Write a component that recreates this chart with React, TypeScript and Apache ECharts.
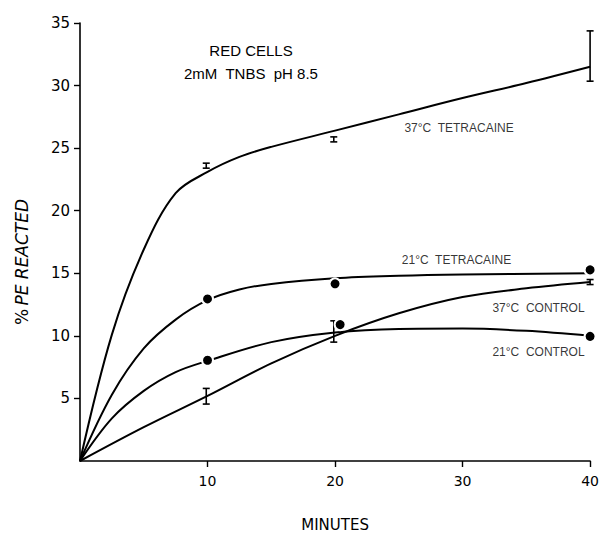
import React, { useEffect, useRef } from "react";
import * as echarts from "echarts";

// ---- data (minutes, % PE reacted) ----
const xTickValues = [10, 20, 30, 40];
const yTickValues = [5, 10, 15, 20, 25, 30, 35];

// fitted curves drawn by hand in the original figure
const curve37Tetracaine = [
  [0, 0], [2.5, 10.1], [5, 16.9], [7.5, 21.4], [10, 23.1], [12.5, 24.3], [15, 25.1],
  [20, 26.4], [25, 27.7], [30, 29.0], [35, 30.2], [40, 31.5],
];
const curve21Tetracaine = [
  [0, 0], [2.5, 5.3], [5, 9.0], [7.5, 11.3], [10, 12.85], [12.5, 13.7], [15, 14.15],
  [20, 14.6], [25, 14.8], [30, 14.9], [40, 15.0],
];
const curve37Control = [
  [0, 0], [5, 2.7], [10, 5.2], [15, 7.8], [20, 10.0], [25, 11.8], [30, 13.1],
  [35, 13.8], [40, 14.3],
];
const curve21Control = [
  [0, 0], [2.5, 3.4], [5, 5.6], [7.5, 7.1], [10, 8.0], [15, 9.5], [20, 10.27],
  [25, 10.55], [30, 10.58], [35, 10.4], [40, 10.0],
];

// measured points
const dots21Tetracaine = [[10, 12.95], [20, 14.16], [40, 15.27]];
const dots21Control = [[10, 8.05], [20.4, 10.9], [40, 9.96]];
// error bars: [minutes, low, high]
const bars37Tetracaine = [[9.9, 23.4, 23.8], [19.9, 25.5, 25.9], [40, 30.35, 34.37]];
const bars37Control = [[9.9, 4.55, 5.8], [19.9, 9.5, 11.2], [40, 14.1, 14.5]];

// curve labels: [minutes, value, text]
const curveLabels: [number, number, string][] = [
  [25.4, 26.6, "37°C  TETRACAINE"],
  [25.2, 16.05, "21°C  TETRACAINE"],
  [32.3, 12.24, "37°C  CONTROL"],
  [32.3, 8.7, "21°C  CONTROL"],
];

const titleLines = ["RED CELLS", "2mM  TNBS  pH 8.5"];

const LABEL_FONT = "'Liberation Sans', Arial, sans-serif";
const TICK_FONT = "'DejaVu Sans', sans-serif";

function lineSeries(data: number[][]) {
  return {
    type: "line",
    data,
    smooth: 0.35,
    symbol: "none",
    lineStyle: { color: "#000", width: 2 },
    z: 2,
  };
}

function barSeries(data: number[][]) {
  return {
    type: "custom",
    data,
    encode: { x: 0, y: [1, 2] },
    z: 3,
    renderItem: (params: any, api: any) => {
      const x = api.value(0);
      const lo = api.coord([x, api.value(1)]);
      const hi = api.coord([x, api.value(2)]);
      const w = 3.5;
      const st = { stroke: "#000", lineWidth: 1.6 };
      return {
        type: "group",
        children: [
          { type: "line", shape: { x1: lo[0], y1: lo[1], x2: hi[0], y2: hi[1] }, style: st },
          { type: "line", shape: { x1: lo[0] - w, y1: lo[1], x2: lo[0] + w, y2: lo[1] }, style: st },
          { type: "line", shape: { x1: hi[0] - w, y1: hi[1], x2: hi[0] + w, y2: hi[1] }, style: st },
        ],
      };
    },
  };
}

function dotSeries(data: number[][]) {
  return {
    type: "scatter",
    data,
    symbol: "circle",
    symbolSize: 11,
    itemStyle: { color: "#000", borderColor: "#fff", borderWidth: 2, opacity: 1 },
    z: 4,
  };
}

export default function App() {
  const ref = useRef<HTMLDivElement>(null);
  useEffect(() => {
    const chart = echarts.init(ref.current!, null, { renderer: "svg" });
    const option: any = {
      animation: false,
      backgroundColor: "#fff",
      title: {
        text: titleLines.join("\n"),
        left: 246,
        top: 34,
        textAlign: "center",
        textStyle: {
          fontFamily: LABEL_FONT,
          fontSize: 15,
          fontWeight: "normal",
          color: "#000",
          lineHeight: 23,
        },
      },
      grid: { left: 80, top: 23, width: 512, height: 444 },
      xAxis: {
        type: "value",
        min: 0,
        max: 40,
        interval: 10,
        axisLine: { lineStyle: { color: "#000", width: 1.6 } },
        axisTick: { show: true, length: 6, customValues: xTickValues, lineStyle: { color: "#000", width: 1.4 } },
        axisLabel: {
          customValues: xTickValues,
          color: "#000",
          fontFamily: TICK_FONT,
          fontSize: 14,
          margin: 13,
        },
        splitLine: { show: false },
        name: "MINUTES",
        nameLocation: "middle",
        nameGap: 56,
        nameTextStyle: { fontFamily: TICK_FONT, fontSize: 15, color: "#000" },
      },
      yAxis: {
        type: "value",
        min: 0,
        max: 35,
        interval: 5,
        axisLine: { show: true, lineStyle: { color: "#000", width: 1.6 } },
        axisTick: { show: true, length: 6, customValues: yTickValues, lineStyle: { color: "#000", width: 1.4 } },
        axisLabel: {
          customValues: yTickValues,
          color: "#000",
          fontFamily: TICK_FONT,
          fontSize: 15,
          margin: 10,
        },
        splitLine: { show: false },
      },
      graphic: [
        {
          type: "text",
          x: 22,
          y: 262,
          rotation: Math.PI / 2,
          style: {
            text: "{a|%} {b|PE REACTED}",
            align: "center",
            verticalAlign: "middle",
            textAlign: "center",
            textVerticalAlign: "middle",
            rich: {
              a: { fontFamily: TICK_FONT, fontSize: 17, fill: "#000", color: "#000" },
              b: { fontFamily: TICK_FONT, fontSize: 17, fontStyle: "italic", fill: "#000", color: "#000" },
            },
          },
        },
      ],
      series: [
        lineSeries(curve37Tetracaine),
        lineSeries(curve21Tetracaine),
        lineSeries(curve37Control),
        lineSeries(curve21Control),
        barSeries(bars37Tetracaine),
        barSeries(bars37Control),
        dotSeries(dots21Tetracaine),
        dotSeries(dots21Control),
        {
          type: "scatter",
          data: curveLabels.map((d) => ({ value: [d[0], d[1]], name: d[2] })),
          symbol: "circle",
          symbolSize: 1,
          itemStyle: { color: "rgba(0,0,0,0)" },
          label: {
            show: true,
            position: "right",
            distance: 0,
            formatter: "{b}",
            fontFamily: LABEL_FONT,
            fontSize: 12,
            color: "#000",
          },
          z: 5,
        },
      ],
    };
    chart.setOption(option);
    return () => chart.dispose();
  }, []);
  return (
    <div
      ref={ref}
      style={{ position: "absolute", left: 0, top: 0, width: 602, height: 537 }}
    />
  );
}
